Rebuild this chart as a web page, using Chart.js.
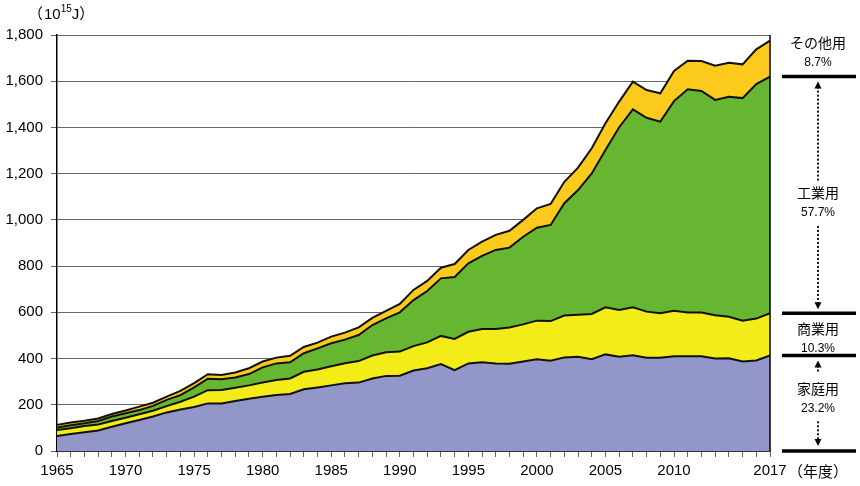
<!DOCTYPE html>
<html>
<head>
<meta charset="utf-8">
<script src="https://cdn.jsdelivr.net/npm/chart.js@4.4.0/dist/chart.umd.min.js"></script>
<style>
  body { margin: 0; background: #fff; }
  #wrap { position: relative; width: 860px; height: 486px; }
</style>
</head>
<body>
<div id="wrap"><canvas id="chart" width="860" height="486"></canvas></div>
<script>
// years and series (10^15 J)
const years = [];
for (let y = 1965; y <= 2017; y++) years.push(String(y));

const household = [65,74,81,89,105,120,134,149,167,180,
  190,206,206,216,226,235,242,247,267,275,
  284,293,296,314,325,326,348,358,376,350,
  379,384,379,378,387,397,391,405,408,397,
  418,408,414,404,404,410,410,410,400,401,
  387,392,413];
const commercial = [26,24,27,26,25,24,25,25,27,33,
  45,57,58,58,58,61,65,67,76,78,
  83,87,93,99,102,104,106,112,122,135,
  137,144,149,156,161,167,171,181,182,196,
  204,202,208,199,192,197,189,189,187,180,
  177,181,183];
const industrial = [11,13,12,15,19,19,18,21,27,29,
  40,50,46,44,49,66,72,70,80,91,
  99,102,113,132,147,170,199,222,249,268,
  296,316,342,346,379,402,416,486,539,608,
  680,791,856,839,829,907,966,959,932,952,
  963,1015,1024];
const other = [11,12,11,11,11,12,15,14,14,18,
  19,19,19,22,25,25,25,28,27,25,
  29,30,33,31,32,36,44,44,46,56,
  58,62,65,73,73,84,91,93,97,109,
  116,111,120,120,123,130,124,129,148,147,
  146,150,156];

const seriesNames = ['家庭用', '商業用', '工業用', 'その他用'];
const shares = ['23.2%', '10.3%', '57.7%', '8.7%'];
const yTicks = [0, 200, 400, 600, 800, 1000, 1200, 1400, 1600, 1800];
const xLabelYears = ['1965','1970','1975','1980','1985','1990','1995','2000','2005','2010','2017'];

const colors = ['#9396c8', '#f3ec19', '#67b631', '#fcca1c'];
const FONT = '"Liberation Sans", Arial, sans-serif';
const JFONT = '"Noto Sans CJK JP", sans-serif';

// extra drawing: unit, right border, share labels
const extras = {
  id: 'extras',
  afterDraw(chart) {
    const ctx = chart.ctx;
    const area = chart.chartArea;
    const ys = chart.scales.y;
    ctx.save();

    // right border of plot
    ctx.strokeStyle = '#000';
    ctx.lineWidth = 1.5;
    ctx.beginPath();
    ctx.moveTo(area.right, area.top);
    ctx.lineTo(area.right, area.bottom);
    ctx.stroke();

    // unit label (10^15 J)
    ctx.fillStyle = '#000';
    ctx.textBaseline = 'alphabetic';
    ctx.textAlign = 'left';
    let x = 34;
    ctx.font = '15px ' + JFONT;
    ctx.fillText('（', x - 6, 19);
    x += 10;
    ctx.font = '15px ' + FONT;
    ctx.fillText('10', x, 19);
    x += ctx.measureText('10').width;
    ctx.font = '10px ' + FONT;
    ctx.fillText('15', x, 12);
    x += ctx.measureText('15').width;
    ctx.font = '15px ' + FONT;
    ctx.fillText('J', x, 19);
    x += ctx.measureText('J').width;
    ctx.font = '15px ' + JFONT;
    ctx.fillText('）', x, 19);

    // year unit
    ctx.font = '15px ' + JFONT;
    ctx.textBaseline = 'middle';
    ctx.fillText('（年度）', 788, 471);

    // bars at 2017 stack boundaries
    const last = years.length - 1;
    const cum1 = household[last];
    const cum2 = cum1 + commercial[last];
    const cum3 = cum2 + industrial[last];
    const bx0 = 782, bx1 = 856, cx = 818;
    const bars = [0, cum1, cum2, cum3].map(v => ys.getPixelForValue(v));
    ctx.lineWidth = 3.5;
    bars.forEach(b => {
      ctx.beginPath();
      ctx.moveTo(bx0, b);
      ctx.lineTo(bx1, b);
      ctx.stroke();
    });

    function label(name, pct, yy) {
      ctx.textAlign = 'center';
      ctx.textBaseline = 'middle';
      ctx.font = '14px ' + JFONT;
      ctx.fillText(name, cx, yy);
      ctx.font = '12px ' + FONT;
      ctx.fillText(pct, cx, yy + 20);
    }
    function dotted(y0, y1) {
      ctx.save();
      ctx.lineWidth = 1.8;
      ctx.setLineDash([2, 2]);
      ctx.beginPath();
      ctx.moveTo(cx, y0);
      ctx.lineTo(cx, y1);
      ctx.stroke();
      ctx.restore();
    }
    function arrow(yTip, up) {
      const d = up ? 7 : -7;
      ctx.beginPath();
      ctx.moveTo(cx, yTip);
      ctx.lineTo(cx - 3.5, yTip + d);
      ctx.lineTo(cx + 3.5, yTip + d);
      ctx.closePath();
      ctx.fill();
    }

    // その他用
    label(seriesNames[3], shares[3], bars[3] - 34);
    // 工業用
    const midInd = (bars[3] + bars[2]) / 2 - 2;
    label(seriesNames[2], shares[2], midInd);
    dotted(bars[3] + 10, midInd - 12);
    arrow(bars[3] + 5, true);
    dotted(midInd + 33, bars[2] - 8);
    arrow(bars[2] - 4, false);
    // 商業用
    label(seriesNames[1], shares[1], bars[2] + 15);
    // 家庭用
    const midHh = (bars[1] + bars[0]) / 2 - 15;
    label(seriesNames[0], shares[0], midHh);
    arrow(bars[1] + 5, true);
    dotted(bars[1] + 10, bars[1] + 18);
    dotted(midHh + 33, bars[0] - 10);
    arrow(bars[0] - 5, false);

    ctx.restore();
  }
};

const datasets = [household, commercial, industrial, other].map((d, i) => ({
  label: seriesNames[i],
  data: d,
  backgroundColor: colors[i],
  borderColor: '#111',
  borderWidth: 2,
  pointRadius: 0,
  tension: 0,
  fill: i === 0 ? 'origin' : '-1'
}));

new Chart(document.getElementById('chart'), {
  type: 'line',
  data: { labels: years, datasets: datasets },
  options: {
    responsive: false,
    animation: false,
    layout: { padding: { left: 0, right: 90, top: 35, bottom: 0 } },
    plugins: {
      legend: { display: false },
      tooltip: { enabled: false }
    },
    scales: {
      x: {
        offset: false,
        grid: { drawOnChartArea: false, tickLength: 6, color: '#666', lineWidth: 1 },
        border: { color: '#000', width: 1.5 },
        ticks: {
          autoSkip: false,
          maxRotation: 0,
          padding: 5,
          color: '#000',
          font: { family: FONT, size: 15 },
          callback: function(v, i) {
            const lab = years[i];
            return xLabelYears.includes(lab) ? lab : '';
          }
        },
        afterFit: s => { s.height = 35; }
      },
      y: {
        stacked: true,
        min: 0,
        max: 1800,
        afterBuildTicks: s => { s.ticks = yTicks.map(v => ({ value: v })); },
        grid: { color: '#666', lineWidth: 1, tickLength: 6 },
        border: { color: '#000', width: 1.5 },
        ticks: {
          padding: 8,
          color: '#000',
          font: { family: FONT, size: 15 },
          callback: v => v.toLocaleString('en-US')
        },
        afterFit: s => { s.width = 57; }
      }
    }
  },
  plugins: [extras]
});
</script>
</body>
</html>
